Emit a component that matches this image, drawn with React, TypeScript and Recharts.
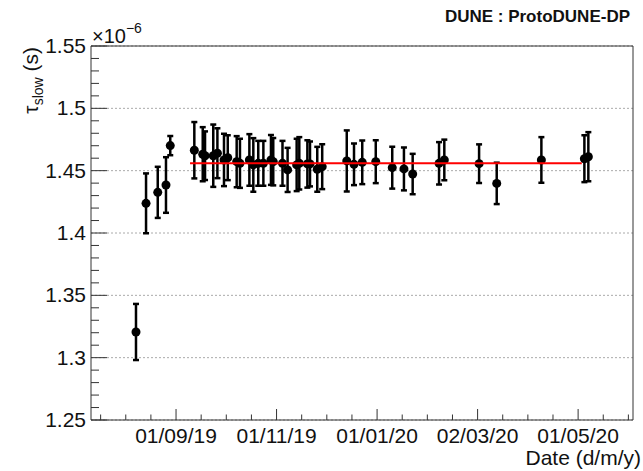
import React from 'react';
import { ComposedChart, Scatter, XAxis, YAxis, CartesianGrid, ErrorBar, Label } from 'recharts';

// x: days since 01/09/2019, y: tau_slow in units of 1e-6 s
const days = [
  -24.3, -18.2, -11.1, -6.1, -3.5, 11.1, 16.2, 17.6, 22.6, 25.1, 29.1, 31.4, 36.8, 38.8,
  44.5, 46.9, 49.9, 53.0, 57.6, 59.0, 64.6, 67.7, 73.2, 74.8, 79.7, 81.3, 85.7, 88.7,
  103.6, 108.0, 113.0, 121.2, 131.2, 138.3, 143.6, 159.6, 162.8, 183.9, 194.6, 221.7,
  247.8, 250.2,
];
const tau = [
  1.3206, 1.4238, 1.4326, 1.4385, 1.4701, 1.4664, 1.4632, 1.462, 1.462, 1.464, 1.4586, 1.4604,
  1.4572, 1.4559, 1.4586, 1.4546, 1.4559, 1.4559, 1.4586, 1.4572, 1.4559, 1.4506, 1.4546, 1.4559,
  1.4554, 1.4554, 1.4511, 1.4532, 1.4578, 1.4551, 1.4567, 1.4572, 1.4524, 1.4514, 1.4473, 1.4559,
  1.4586, 1.4556, 1.4398, 1.4586, 1.4596, 1.4612,
];
const tauErr = [
  0.0225, 0.024, 0.0205, 0.0223, 0.0077, 0.0226, 0.0217, 0.0195, 0.025, 0.02, 0.021, 0.018,
  0.0205, 0.0197, 0.0207, 0.0215, 0.018, 0.018, 0.02, 0.019, 0.018, 0.0177, 0.021, 0.021,
  0.019, 0.018, 0.018, 0.018, 0.0245, 0.0167, 0.0175, 0.0172, 0.0168, 0.0172, 0.0162, 0.017,
  0.0163, 0.0155, 0.0166, 0.0183, 0.0188, 0.0197,
];

// constant fit
const fitValue = 1.456;
const fitDays = [8.5, 246.2];

const xTickDays = [0, 61, 122, 183, 244];
const xTickLabels = ['01/09/19', '01/11/19', '01/01/20', '02/03/20', '01/05/20'];
const yTickValues = [1.25, 1.3, 1.35, 1.4, 1.45, 1.5, 1.55];
const yTickLabels = ['1.25', '1.3', '1.35', '1.4', '1.45', '1.5', '1.55'];

const points = days.map((d, i) => ({ day: d, tau: tau[i], err: tauErr[i] }));
const fitLine = fitDays.map((d) => ({ day: d, tau: fitValue }));

// minor ticks: 4 per major division on x, 5 on y
const xTicks: number[] = [];
for (let i = -3; i <= 18; i++) xTicks.push(i * 15.25);
const yTicks: number[] = [];
for (let i = 0; i <= 30; i++) yTicks.push(Math.round((1.25 + i * 0.01) * 100) / 100);

const font = '"Liberation Sans", Arial, Helvetica, sans-serif';
const frame = '#333';

const XTick = (props: any) => {
  const { x, y, payload } = props;
  const idx = xTickDays.findIndex((d) => Math.abs(d - payload.value) < 0.01);
  return (
    <g>
      <line x1={x} x2={x} y1={y} y2={y - (idx >= 0 ? 11 : 5.5)} stroke={frame} />
      {idx >= 0 && (
        <text x={x} y={y + 23} textAnchor="middle" fontSize={21} fontFamily={font} fill="#111">
          {xTickLabels[idx]}
        </text>
      )}
    </g>
  );
};

const YTick = (props: any) => {
  const { x, y, payload } = props;
  const idx = yTickValues.findIndex((v) => Math.abs(v - payload.value) < 1e-6);
  return (
    <g>
      <line x1={x} x2={x + (idx >= 0 ? 16 : 8)} y1={y} y2={y} stroke={frame} />
      {idx >= 0 && (
        <text x={x - 5} y={y + 7} textAnchor="end" fontSize={21} fontFamily={font} fill="#111">
          {yTickLabels[idx]}
        </text>
      )}
    </g>
  );
};

const Dot = (props: any) => <circle cx={props.cx} cy={props.cy} r={4.5} fill="#000" />;

export default function App() {
  return (
    <div style={{ position: 'absolute', left: 0, top: 0, background: '#fff' }}>
      <ComposedChart width={643} height={471} margin={{ top: 45, right: 9, bottom: 21, left: 31 }}>
        <CartesianGrid
          vertical={false}
          horizontalValues={yTickValues}
          stroke="#aaa"
          strokeDasharray="2 2"
        />
        <XAxis
          dataKey="day"
          type="number"
          domain={[-51.6, 277.3]}
          allowDataOverflow
          ticks={xTicks}
          interval={0}
          tickSize={0}
          tickMargin={0}
          tickLine={false}
          tick={XTick}
          height={30}
          axisLine={{ stroke: frame }}
        >
          <Label
            content={() => (
              <text x={641} y={465} textAnchor="end" fontSize={21} fontFamily={font} fill="#111">
                Date (d/m/y)
              </text>
            )}
          />
        </XAxis>
        <XAxis
          xAxisId="top"
          orientation="top"
          dataKey="day"
          type="number"
          domain={[-51.6, 277.3]}
          allowDataOverflow
          height={1}
          ticks={[]}
          tick={false}
          tickLine={false}
          axisLine={{ stroke: frame }}
        />
        <YAxis
          dataKey="tau"
          type="number"
          domain={[1.25, 1.55]}
          allowDataOverflow
          ticks={yTicks}
          interval={0}
          tickSize={0}
          tickMargin={0}
          tickLine={false}
          tick={YTick}
          width={60}
          axisLine={{ stroke: frame }}
        >
          <Label
            content={() => (
              <g fontFamily={font} fill="#111">
                <text
                  x={38}
                  y={47}
                  transform="rotate(-90, 38, 47)"
                  textAnchor="end"
                  fontSize={21}
                >
                  τ
                  <tspan dy={5} fontSize={14}>slow</tspan>
                  <tspan dy={-5}> (s)</tspan>
                </text>
                <text x={630} y={22} textAnchor="end" fontSize={17} fontWeight="bold">
                  DUNE : ProtoDUNE-DP
                </text>
                <text x={92} y={43} fontSize={20}>
                  ×10
                  <tspan dy={-10} fontSize={14}>−6</tspan>
                </text>
              </g>
            )}
          />
        </YAxis>
        <YAxis
          yAxisId="right"
          orientation="right"
          dataKey="tau"
          type="number"
          domain={[1.25, 1.55]}
          allowDataOverflow
          width={1}
          ticks={[]}
          tick={false}
          tickLine={false}
          axisLine={{ stroke: frame }}
        />
        <Scatter data={points} dataKey="tau" shape={Dot} isAnimationActive={false}>
          <ErrorBar dataKey="err" direction="y" width={3} stroke="#000" strokeWidth={2.5} isAnimationActive={false} />
        </Scatter>
        <Scatter
          data={fitLine}
          dataKey="tau"
          line={{ stroke: '#ff0000', strokeWidth: 2 }}
          shape={() => <g />}
          isAnimationActive={false}
        />
      </ComposedChart>
    </div>
  );
}
